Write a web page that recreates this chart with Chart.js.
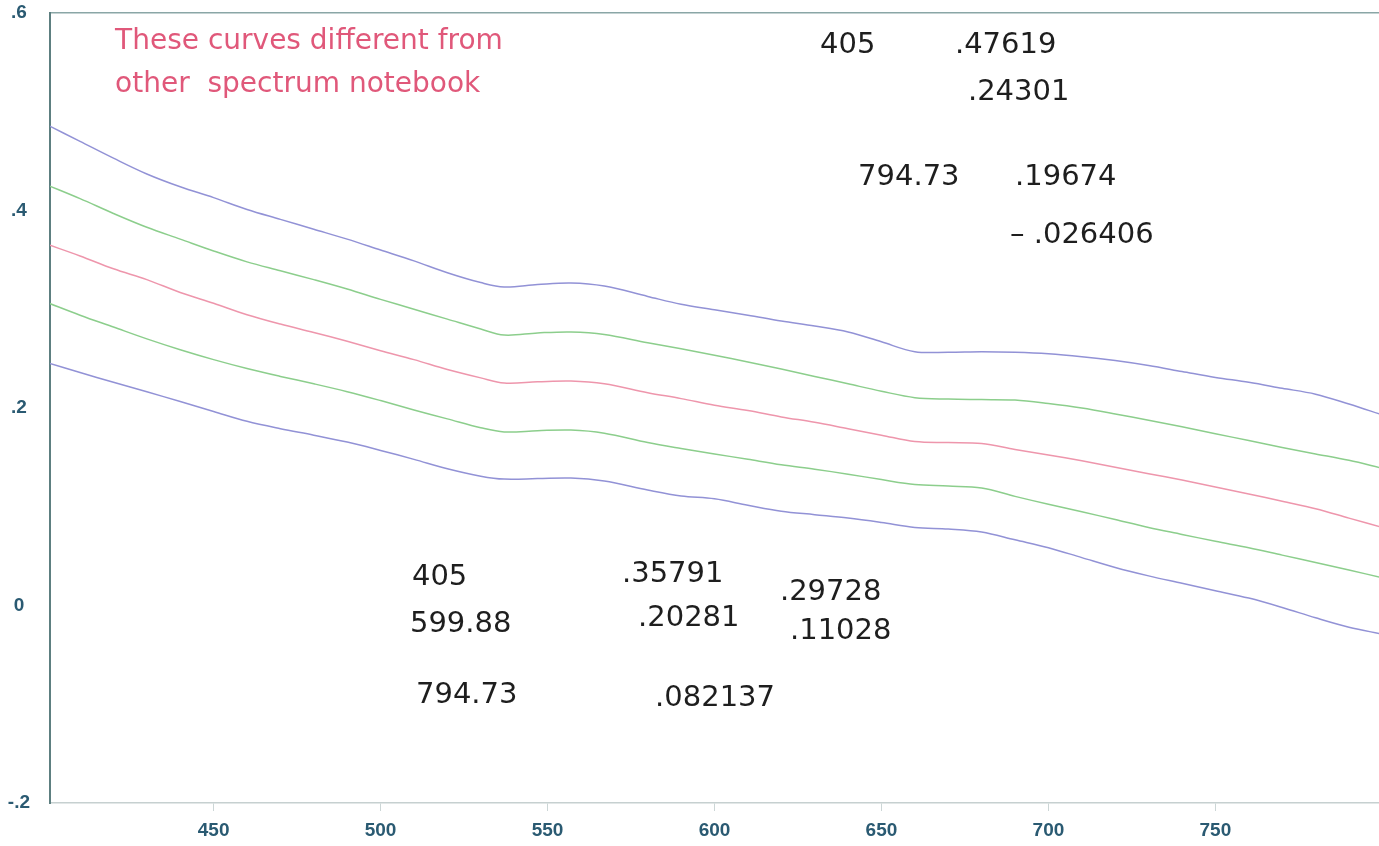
<!DOCTYPE html>
<html>
<head>
<meta charset="utf-8">
<title>Spectrum curves</title>
<script src="https://cdn.jsdelivr.net/npm/chart.js"></script>
<style>
    html, body { margin: 0; padding: 0; background: #ffffff; }
    #chart { display: block; }
</style>
</head>
<body>
<canvas id="chart" width="1379" height="846"></canvas>
<script>
// ==========================================================
// === DATA ===
// ==========================================================

// wavelength (nm), shared by all five curves
const wavelengths = [400, 410, 420, 430, 440, 450, 460, 470, 480, 490, 500, 510, 520, 530, 537, 547, 557, 567, 580, 590,
    600, 610, 620, 630, 640, 650, 660, 670, 680, 690, 700, 710, 720, 730, 740, 750, 760, 770, 780, 790, 800];

// curves, top to bottom
const blueTop = [0.487, 0.470, 0.453, 0.437, 0.424, 0.413, 0.401, 0.391, 0.381, 0.371, 0.360, 0.349, 0.337, 0.327, 0.3225, 0.325, 0.3266, 0.3235, 0.313, 0.305,
    0.2995, 0.294, 0.288, 0.283, 0.277, 0.267, 0.257, 0.2565, 0.257, 0.2565, 0.255, 0.252, 0.248, 0.243, 0.237, 0.231, 0.226, 0.220, 0.214, 0.204, 0.193];
const greenUpper = [0.426, 0.412, 0.397, 0.383, 0.371, 0.359, 0.348, 0.339, 0.330, 0.3205, 0.310, 0.300, 0.290, 0.280, 0.2739, 0.276, 0.277, 0.2745, 0.266, 0.260,
    0.2535, 0.2465, 0.2395, 0.232, 0.2245, 0.217, 0.2105, 0.209, 0.2085, 0.208, 0.2045, 0.200, 0.194, 0.1875, 0.181, 0.174, 0.167, 0.160, 0.1535, 0.147, 0.139];
const pinkMiddle = [0.366, 0.354, 0.341, 0.330, 0.317, 0.306, 0.2945, 0.285, 0.2765, 0.2675, 0.258, 0.249, 0.239, 0.2305, 0.2253, 0.2265, 0.2273, 0.2245, 0.2155, 0.2095,
    0.2028, 0.1975, 0.191, 0.1855, 0.179, 0.1725, 0.166, 0.165, 0.164, 0.158, 0.1525, 0.1465, 0.140, 0.1335, 0.127, 0.120, 0.113, 0.1055, 0.098, 0.0885, 0.079];
const greenLower = [0.307, 0.294, 0.282, 0.270, 0.259, 0.249, 0.240, 0.232, 0.2245, 0.2165, 0.2075, 0.198, 0.189, 0.180, 0.1757, 0.177, 0.1777, 0.1745, 0.165, 0.159,
    0.1535, 0.148, 0.1425, 0.138, 0.133, 0.1275, 0.1225, 0.121, 0.119, 0.1105, 0.1025, 0.095, 0.087, 0.079, 0.072, 0.065, 0.0585, 0.051, 0.0435, 0.036, 0.028];
const blueBottom = [0.246, 0.236, 0.226, 0.2165, 0.2065, 0.1965, 0.1865, 0.179, 0.1725, 0.1655, 0.157, 0.148, 0.1385, 0.131, 0.128, 0.1285, 0.1291, 0.126, 0.117, 0.111,
    0.108, 0.1015, 0.0955, 0.092, 0.0885, 0.084, 0.079, 0.0775, 0.0745, 0.0665, 0.0585, 0.0485, 0.0385, 0.030, 0.0225, 0.015, 0.0075, -0.002, -0.0125, -0.022, -0.029];

// axes
const xTicks = [450, 500, 550, 600, 650, 700, 750];
const yTicks = [-0.2, 0, 0.2, 0.4, 0.6];
const yTickLabels = ['-.2', '0', '.2', '.4', '.6'];

// handwritten notes on the sheet: [text, wavelength, value, colour]
const notes = [
    ['These curves different from', 420.5, 0.571, '#e0587a'],
    ['other  spectrum notebook', 420.5, 0.527, '#e0587a'],
    ['405', 631.6, 0.567, '#1e1e1e'],
    ['.47619', 672, 0.567, '#1e1e1e'],
    ['.24301', 675.9, 0.520, '#1e1e1e'],
    ['794.73', 643, 0.433, '#1e1e1e'],
    ['.19674', 690, 0.433, '#1e1e1e'],
    ['\u2013 .026406', 688.5, 0.375, '#1e1e1e'],
    ['405', 509.4, 0.028, '#1e1e1e'],
    ['.35791', 572.3, 0.031, '#1e1e1e'],
    ['.29728', 619.6, 0.0137, '#1e1e1e'],
    ['599.88', 508.8, -0.0197, '#1e1e1e'],
    ['.20281', 577.1, -0.0127, '#1e1e1e'],
    ['.11028', 622.6, -0.0268, '#1e1e1e'],
    ['794.73', 510.6, -0.0916, '#1e1e1e'],
    ['.082137', 582.2, -0.0937, '#1e1e1e']
];

// ==========================================================
// === HELPERS ===
// ==========================================================
const axisColor = '#2a5a72';
const tickFont = { family: '"Liberation Sans", Arial', size: 19, weight: 'bold' };
const toPoints = (values) => wavelengths.map((w, i) => ({ x: w, y: values[i] }));

const curve = (label, values, color) => ({
    label: label,
    data: toPoints(values),
    borderColor: color,
    borderWidth: 1.5,
    pointRadius: 0,
    tension: 0.35,
    fill: false
});

// draws the handwritten notes, placed through the chart scales
const notesPlugin = {
    id: 'notes',
    afterDatasetsDraw(chart) {
        const { ctx, scales } = chart;
        ctx.save();
        ctx.textBaseline = 'middle';
        ctx.textAlign = 'left';
        notes.forEach(([text, w, v, color]) => {
            ctx.font = color === '#1e1e1e' ? '29px "DejaVu Sans"' : '28px "DejaVu Sans"';
            ctx.fillStyle = color;
            ctx.fillText(text, scales.x.getPixelForValue(w), scales.y.getPixelForValue(v));
        });
        ctx.restore();
    }
};

// ==========================================================
// === CHART ===
// ==========================================================
new Chart(document.getElementById('chart'), {
    type: 'line',
    data: {
        datasets: [
            curve('curve 1', blueTop, 'rgb(146, 146, 214)'),
            curve('curve 2', greenUpper, 'rgb(140, 206, 140)'),
            curve('curve 3', pinkMiddle, 'rgb(238, 150, 172)'),
            curve('curve 4', greenLower, 'rgb(140, 206, 140)'),
            curve('curve 5', blueBottom, 'rgb(146, 146, 214)')
        ]
    },
    options: {
        responsive: false,
        animation: false,
        devicePixelRatio: 1,
        layout: { padding: 0 },
        plugins: {
            legend: { display: false },
            tooltip: { enabled: false }
        },
        scales: {
            x: {
                type: 'linear',
                position: 'bottom',
                min: 401,
                max: 799,
                afterBuildTicks: (scale) => { scale.ticks = xTicks.map(v => ({ value: v })); },
                afterFit: (scale) => { scale.height = 43; scale.paddingLeft = 0; scale.paddingRight = 0; },
                ticks: {
                    color: axisColor,
                    font: tickFont,
                    padding: 8,
                    maxRotation: 0,
                    autoSkip: false
                },
                grid: { drawOnChartArea: false, tickLength: 8, color: 'rgba(170, 186, 186, 0.6)' },
                border: { color: '#c6d0d0', width: 1.5 }
            },
            xTop: {
                type: 'linear',
                position: 'top',
                min: 401,
                max: 799,
                afterFit: (scale) => { scale.height = 13; },
                ticks: { display: false },
                grid: { display: false },
                border: { color: '#8aa6a6', width: 1.5 }
            },
            y: {
                min: -0.2,
                max: 0.6,
                afterBuildTicks: (scale) => { scale.ticks = yTicks.map(v => ({ value: v })); },
                afterFit: (scale) => { scale.width = 50; scale.paddingTop = 0; scale.paddingBottom = 0; },
                ticks: {
                    color: axisColor,
                    font: tickFont,
                    crossAlign: 'center',
                    padding: 12,
                    callback: (value, index) => yTickLabels[index]
                },
                grid: { display: false },
                border: { color: '#5d7f80', width: 2 }
            }
        }
    },
    plugins: [notesPlugin]
});
</script>
</body>
</html>
